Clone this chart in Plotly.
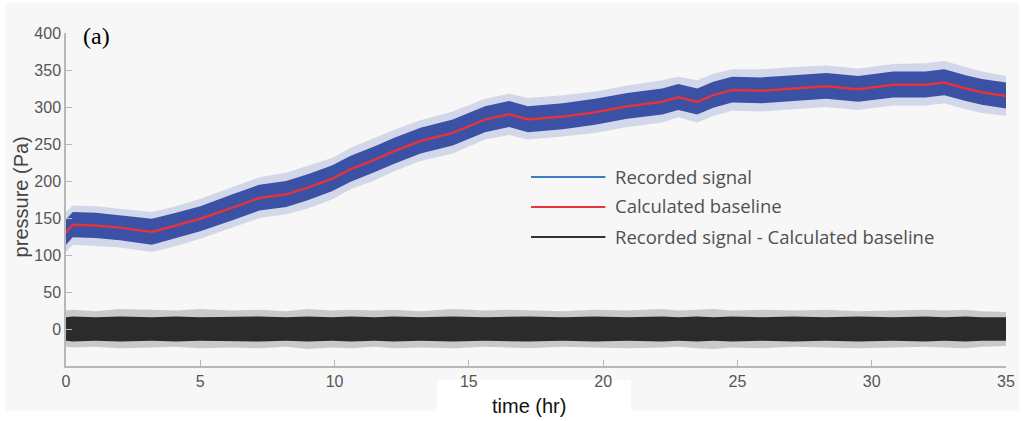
import plotly.graph_objects as go

# ---- data (time in hours, pressure in Pa) ----
time_hr = [0, 0.25, 1.1, 2.0, 3.2, 4.1, 5.0, 6.2, 7.2, 8.2, 9.0, 9.9, 10.6, 11.5,
           12.2, 13.2, 14.4, 15.6, 16.5, 17.2, 18.5, 19.7, 20.9, 22.2, 22.8, 23.5,
           24.1, 24.8, 25.9, 27.1, 28.3, 29.5, 30.8, 32.0, 32.7, 33.5, 34.1, 35.0]

baseline = [130, 141, 140, 137, 131, 140, 149, 164, 177, 182, 191, 203, 216, 229,
            240, 254, 265, 283, 290, 283, 287, 293, 301, 307, 313, 307,
            316, 323, 322, 325, 328, 324, 330, 330, 333, 325, 320, 315]

# recorded signal: dense band (core) and outer spikes
signal_upper = [148, 158, 157, 154, 149, 157, 166, 182, 195, 200, 209, 221, 234, 247,
                258, 272, 283, 301, 308, 301, 305, 311, 319, 325, 331, 325,
                334, 341, 340, 343, 346, 342, 348, 348, 351, 343, 338, 333]
signal_lower = [114, 124, 123, 120, 114, 123, 132, 147, 160, 165, 174, 186, 199, 212,
                223, 237, 248, 266, 273, 266, 270, 276, 284, 290, 296, 290,
                299, 306, 305, 308, 311, 307, 313, 313, 316, 308, 303, 298]
signal_peak = [158, 167, 166, 163, 158, 166, 176, 192, 205, 211, 220, 231, 245, 258,
               269, 282, 294, 311, 318, 312, 316, 321, 329, 336, 341, 336,
               345, 351, 351, 354, 356, 352, 358, 359, 362, 354, 348, 342]
signal_trough = [104, 114, 112, 110, 104, 112, 122, 137, 150, 155, 163, 175, 189, 201,
                 213, 227, 237, 256, 262, 256, 260, 265, 273, 279, 286, 279,
                 288, 295, 294, 297, 300, 296, 302, 302, 305, 297, 292, 288]

# recorded signal - calculated baseline
resid_upper = [16, 17, 16, 17, 16, 17, 16, 17, 17, 16, 17, 16, 17, 16,
               17, 16, 17, 16, 17, 17, 16, 17, 16, 17, 16, 17,
               16, 17, 16, 17, 16, 17, 16, 17, 16, 17, 16, 16]
resid_lower = [-16, -17, -16, -17, -16, -17, -16, -17, -17, -16, -17, -16, -17, -16,
               -17, -16, -17, -16, -17, -17, -16, -17, -16, -17, -16, -17,
               -16, -17, -16, -17, -16, -17, -16, -17, -16, -17, -16, -16]
resid_peak = [25, 26, 24, 27, 26, 25, 27, 25, 26, 24, 27, 25, 26, 25,
              26, 24, 27, 25, 26, 25, 24, 26, 25, 27, 25, 26,
              27, 25, 26, 25, 26, 24, 25, 26, 25, 26, 24, 23]
resid_trough = [-24, -25, -24, -26, -25, -24, -26, -25, -26, -24, -27, -25, -26, -24,
                -26, -25, -26, -24, -25, -26, -24, -25, -26, -25, -24, -26,
                -27, -25, -26, -24, -25, -26, -25, -24, -25, -26, -24, -23]

x_ticks = [0, 5, 10, 15, 20, 25, 30, 35]
y_ticks = [0, 50, 100, 150, 200, 250, 300, 350, 400]

legend_labels = ["Recorded signal", "Calculated baseline",
                 "Recorded signal - Calculated baseline"]

# ---- styles ----
BLUE = "rgb(58,81,166)"
BLUE_FAINT = "rgba(80,105,185,0.22)"
RED = "rgb(226,52,60)"
BLACK = "rgb(43,43,43)"
BLACK_FAINT = "rgba(43,43,43,0.22)"
LEG_COLORS = ["rgb(60,124,200)", "rgb(232,52,58)", "rgb(50,50,50)"]
AXIS = "#b8b8b8"

fig = go.Figure()


def band(lo, hi, color):
    fig.add_trace(go.Scatter(x=time_hr, y=lo, mode="lines", line=dict(width=0),
                             hoverinfo="skip", showlegend=False))
    fig.add_trace(go.Scatter(x=time_hr, y=hi, mode="lines", line=dict(width=0),
                             fill="tonexty", fillcolor=color,
                             hoverinfo="skip", showlegend=False))


band(signal_trough, signal_peak, BLUE_FAINT)
band(signal_lower, signal_upper, BLUE)
fig.add_trace(go.Scatter(x=time_hr, y=baseline, mode="lines",
                         line=dict(color=RED, width=2.5), showlegend=False))
band(resid_trough, resid_peak, BLACK_FAINT)
band(resid_lower, resid_upper, BLACK)

# plot area: x 66..1014 px, y 33..366 px
L, R, T, B = 66, 13, 33, 55
W, H = 1027 - L - R, 421 - T - B


def px(xp):
    return (xp - L) / W


def py(yp):
    return (421 - B - yp) / H


shapes = [
    dict(type="rect", xref="paper", yref="paper", x0=px(5), x1=px(1027),
         y0=py(411), y1=py(3), fillcolor="#f7f7f7", line=dict(width=0), layer="below"),
    dict(type="rect", xref="paper", yref="paper", x0=px(440), x1=px(636),
         y0=py(421), y1=py(380), fillcolor="white", line=dict(width=0), layer="below"),
]
leg_y = [177, 207, 237]
annotations = []
for lbl, c, yy in zip(legend_labels, LEG_COLORS, leg_y):
    shapes.append(dict(type="line", xref="paper", yref="paper", x0=px(535), x1=px(610),
                       y0=py(yy), y1=py(yy), line=dict(color=c, width=2.2)))
    annotations.append(dict(text=lbl, xref="paper", yref="paper", x=px(618), y=py(yy - 1),
                            xanchor="left", yanchor="middle", showarrow=False,
                            font=dict(family="Open Sans", size=18.5, color="#505050")))

annotations += [
    dict(text="(a)", xref="paper", yref="paper", x=px(97), y=py(36), showarrow=False,
         xanchor="center", yanchor="middle",
         font=dict(family="Liberation Serif", size=24, color="black")),
    dict(text="pressure (Pa)", xref="paper", yref="paper", x=px(21), y=py(197),
         textangle=-90, showarrow=False, xanchor="center", yanchor="middle",
         font=dict(family="Liberation Sans", size=20, color="#444")),
    dict(text="time (hr)", xref="paper", yref="paper", x=px(533), y=py(406),
         showarrow=False, xanchor="center", yanchor="middle",
         font=dict(family="Liberation Sans", size=20, color="#111")),
]

axis_common = dict(showline=True, linecolor=AXIS, linewidth=1.5, ticks="inside",
                   ticklen=6, tickcolor=AXIS, tickwidth=1.2, showgrid=False,
                   zeroline=False, tickfont=dict(family="Liberation Sans", size=16,
                                                 color="#555"))
fig.update_layout(
    width=1027, height=421,
    margin=dict(l=L, r=R, t=T, b=B),
    paper_bgcolor="white", plot_bgcolor="rgba(0,0,0,0)",
    xaxis=dict(range=[0, 35], tickvals=x_ticks, **axis_common),
    yaxis=dict(range=[-50, 400], tickvals=y_ticks, **axis_common),
    shapes=shapes, annotations=annotations, showlegend=False,
)

fig.write_html("out.html")
